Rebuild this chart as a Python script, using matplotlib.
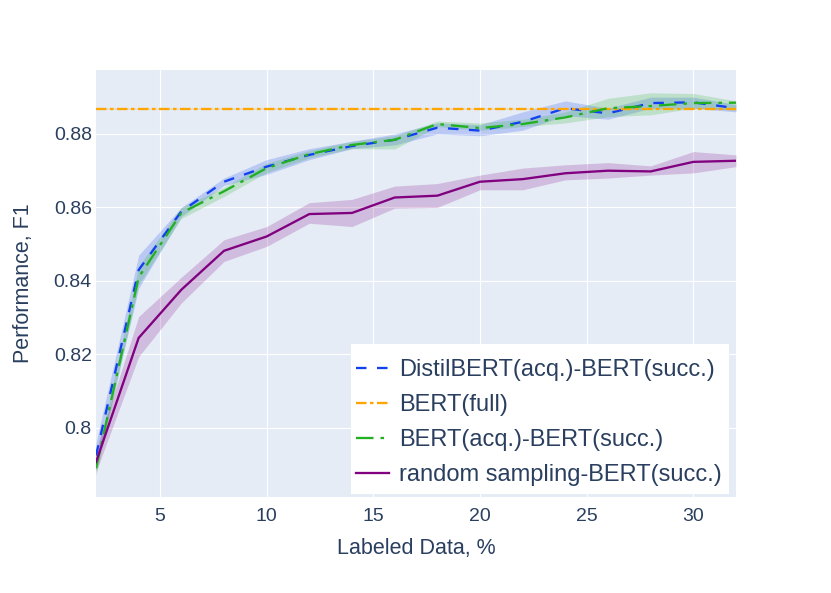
import matplotlib.pyplot as plt
from matplotlib.patches import Rectangle
import numpy as np

plt.rcParams['font.family'] = ['Liberation Sans', 'DejaVu Sans']
plt.rcParams['lines.scale_dashes'] = False

# labeled data (%)
labeled = [2, 4, 6, 8, 10, 12, 14, 16, 18, 20, 22, 24, 26, 28, 30, 32]

# DistilBERT(acq.)-BERT(succ.)
distil_mean = [0.7925, 0.8430, 0.8589, 0.8670, 0.8711, 0.8743, 0.8767, 0.8784,
               0.8817, 0.8809, 0.8833, 0.8870, 0.8856, 0.8884, 0.8886, 0.8870]
distil_low = [0.7890, 0.8380, 0.8575, 0.8660, 0.8690, 0.8730, 0.8760, 0.8770,
              0.8800, 0.8795, 0.8810, 0.8850, 0.8840, 0.8870, 0.8870, 0.8860]
distil_high = [0.7960, 0.8470, 0.8600, 0.8680, 0.8730, 0.8760, 0.8780, 0.8800,
               0.8830, 0.8825, 0.8860, 0.8890, 0.8870, 0.8900, 0.8900, 0.8880]

# BERT(full)
full_mean = 0.8868
full_low = 0.8865
full_high = 0.8871

# BERT(acq.)-BERT(succ.)
bert_mean = [0.7890, 0.8410, 0.8585, 0.8644, 0.8707, 0.8745, 0.8770, 0.8784,
             0.8827, 0.8816, 0.8827, 0.8845, 0.8870, 0.8876, 0.8884, 0.8885]
bert_low = [0.7870, 0.8390, 0.8570, 0.8630, 0.8695, 0.8735, 0.8760, 0.8759,
            0.8820, 0.8810, 0.8820, 0.8830, 0.8847, 0.8852, 0.8870, 0.8865]
bert_high = [0.7910, 0.8440, 0.8600, 0.8655, 0.8720, 0.8755, 0.8780, 0.8795,
             0.8835, 0.8830, 0.8840, 0.8860, 0.8897, 0.8912, 0.8910, 0.8890]

# random sampling-BERT(succ.)
rand_mean = [0.7907, 0.8245, 0.8376, 0.8482, 0.8521, 0.8582, 0.8585, 0.8627,
             0.8632, 0.8670, 0.8677, 0.8693, 0.8700, 0.8698, 0.8724, 0.8727]
rand_low = [0.7880, 0.8194, 0.8340, 0.8453, 0.8494, 0.8557, 0.8548, 0.8598,
            0.8600, 0.8648, 0.8648, 0.8675, 0.8680, 0.8688, 0.8694, 0.8711]
rand_high = [0.7940, 0.8303, 0.8410, 0.8512, 0.8548, 0.8613, 0.8622, 0.8658,
             0.8665, 0.8688, 0.8707, 0.8716, 0.8722, 0.8713, 0.8752, 0.8743]

text_col = '#2a3f5f'
px = 0.72  # points per pixel

fig = plt.figure(figsize=(8.31, 5.93), dpi=100)
ax = fig.add_axes([96 / 831, 1 - 497 / 593, 640 / 831, 427 / 593])
ax.set_facecolor('#E5ECF6')
for s in ax.spines.values():
    s.set_visible(False)

lw = 2.3 * px
x = np.array(labeled)

ax.fill_between(x, distil_low, distil_high, color='#1040f0', alpha=0.2, lw=0)
ax.plot(x, distil_mean, color='#1040f0', lw=lw, dashes=(10.5 * px, 10.5 * px),
        label='DistilBERT(acq.)-BERT(succ.)')

ax.fill_between(x, full_low, full_high, color='orange', alpha=0.2, lw=0)
ax.plot(x, [full_mean] * len(x), color='orange', lw=lw,
        dashes=(10.5 * px, 3.5 * px, 3.5 * px, 3.5 * px), label='BERT(full)')

ax.fill_between(x, bert_low, bert_high, color='#22b022', alpha=0.2, lw=0)
ax.plot(x, bert_mean, color='#22b022', lw=lw,
        dashes=(17.5 * px, 7 * px, 3.5 * px, 7 * px), label='BERT(acq.)-BERT(succ.)')

ax.fill_between(x, rand_low, rand_high, color='purple', alpha=0.2, lw=0)
ax.plot(x, rand_mean, color='purple', lw=lw, label='random sampling-BERT(succ.)')

ax.set_xlim(2, 32)
ax.set_ylim(0.7812, 0.8974)
ax.set_xticks([5, 10, 15, 20, 25, 30])
ax.set_yticks([0.8, 0.82, 0.84, 0.86, 0.88])
ax.set_yticklabels(['0.8', '0.82', '0.84', '0.86', '0.88'])
ax.grid(True, color='white', lw=1.2 * px)
ax.set_axisbelow(True)
ax.tick_params(axis='y', length=0, labelsize=14, labelcolor=text_col, pad=3)
ax.tick_params(axis='x', length=0, labelsize=14, labelcolor=text_col, pad=8)

ax.set_xlabel('Labeled Data, %', fontsize=15.5, color=text_col, labelpad=9)
ax.set_ylabel('Performance, F1', fontsize=15.5, color=text_col, labelpad=14)

# white legend box, drawn separately for plotly-like padding
ax.add_patch(Rectangle(((351 - 96) / 640, (497 - 494) / 427), 378 / 640, 150 / 427,
                       transform=ax.transAxes, facecolor='white', edgecolor='none',
                       zorder=4.5))
leg = ax.legend(loc='upper left', bbox_to_anchor=((356 - 96) / 640, (497 - 359) / 427),
                fontsize=17, frameon=False, handlelength=1.4, handletextpad=0.42,
                labelspacing=0.55, borderpad=0, borderaxespad=0, labelcolor=text_col)
leg.set_zorder(5)

fig.savefig('out.png', dpi=100)
